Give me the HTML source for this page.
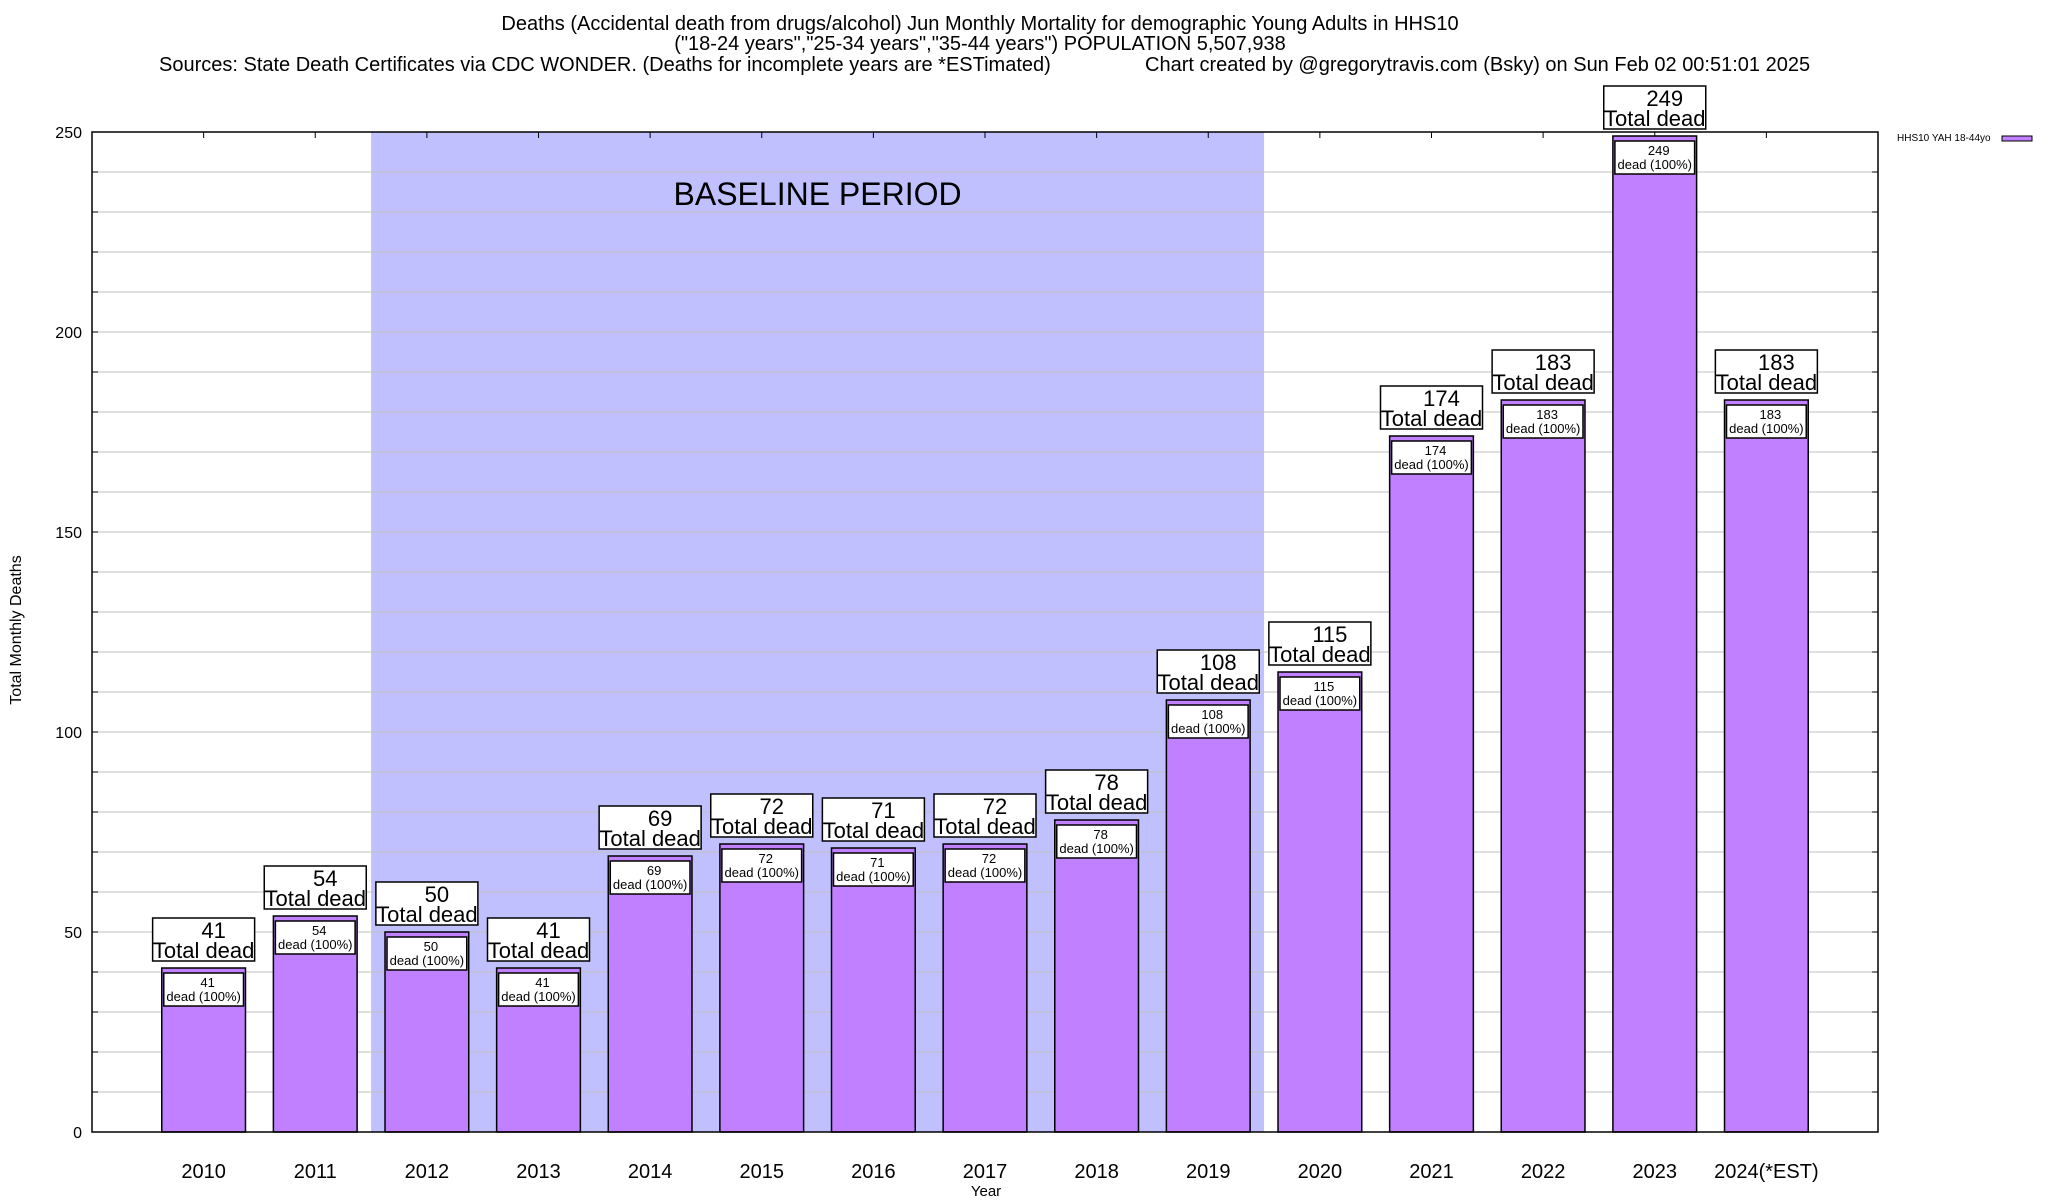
<!DOCTYPE html>
<html><head><meta charset="utf-8"><style>
html,body{margin:0;padding:0;background:#fff;}
svg{display:block;font-family:"Liberation Sans",Arial,sans-serif;}
</style></head><body>
<svg id="chart" width="2048" height="1200" viewBox="0 0 2048 1200" xmlns="http://www.w3.org/2000/svg">
<g font-size="20" fill="#000">
<text x="980" y="30" text-anchor="middle">Deaths (Accidental death from drugs/alcohol) Jun Monthly Mortality for demographic Young Adults in HHS10</text>
<text x="980" y="50" text-anchor="middle">("18-24 years","25-34 years","35-44 years") POPULATION 5,507,938</text>
<text x="159" y="71">Sources: State Death Certificates via CDC WONDER. (Deaths for incomplete years are *ESTimated)</text>
<text x="1145" y="71">Chart created by @gregorytravis.com (Bsky) on Sun Feb 02 00:51:01 2025</text>
</g>
<g id="plot"></g>
</svg>
<script>
const categories=["2010","2011","2012","2013","2014","2015","2016","2017","2018","2019","2020","2021","2022","2023","2024(*EST)"];
const deaths=[41,54,50,41,69,72,71,72,78,108,115,174,183,249,183];
const yTicks=[0,50,100,150,200,250];
const baselineStart=2, baselineEnd=9;

const L=92,R=1878,T=132,B=1132,YMAX=250;
const NS="http://www.w3.org/2000/svg";
const xs=i=>L+(i+1)*(R-L)/(categories.length+1);
const ys=v=>B-v*(B-T)/YMAX;
const unit=(R-L)/(categories.length+1);
const g=document.getElementById('plot');
function mk(tag,attrs,parent,txt){const e=document.createElementNS(NS,tag);for(const k in attrs)e.setAttribute(k,attrs[k]);if(txt!==undefined)e.textContent=txt;(parent||g).appendChild(e);return e;}

let e=mk('rect',{x:xs(baselineStart)-unit/2,y:T,width:(baselineEnd-baselineStart+1)*unit,height:B-T,fill:'#c0c0ff'});


for(let v=10;v<YMAX;v+=10){
 e=mk('line',{x1:L,x2:R,y1:ys(v),y2:ys(v),stroke:'#c0c0c0','stroke-width':1});
 
 
 mk('line',{x1:L,x2:L+6,y1:ys(v),y2:ys(v),stroke:'#000'});
 mk('line',{x1:R-6,x2:R,y1:ys(v),y2:ys(v),stroke:'#000'});
}
e=mk('text',{x:(xs(baselineStart)-unit/2+xs(baselineEnd)+unit/2)/2,y:205,'text-anchor':'middle','font-size':32},g,'BASELINE PERIOD');


yTicks.forEach(v=>{
 e=mk('text',{x:L-10,y:ys(v)+6,'text-anchor':'end','font-size':16},g,String(v));
 
 
});
const bw=unit*0.75;
categories.forEach((c,i)=>{
 const cx=xs(i),v=deaths[i],yt=ys(v);
 mk('line',{x1:cx,x2:cx,y1:T,y2:T+6,stroke:'#000'});
 e=mk('rect',{x:cx-bw/2,y:yt,width:bw,height:B-yt,fill:'#c080ff',stroke:'#000','stroke-width':1.5});
 
 
 e=mk('rect',{x:cx-bw/2+2,y:yt+5,width:bw-4,height:33,fill:'#fff',stroke:'#000','stroke-width':1.5});
 
 
 mk('text',{x:cx+4,y:yt+19,'text-anchor':'middle','font-size':13},g,String(v));
 mk('text',{x:cx,y:yt+33,'text-anchor':'middle','font-size':13},g,'dead (100%)');
 e=mk('rect',{x:cx-51,y:yt-50,width:102,height:43,fill:'#fff',stroke:'#000','stroke-width':1.5});
 
 
 mk('text',{x:cx+10,y:yt-30,'text-anchor':'middle','font-size':22},g,String(v));
 mk('text',{x:cx,y:yt-10,'text-anchor':'middle','font-size':22},g,'Total dead');
 e=mk('text',{x:cx,y:1178,'text-anchor':'middle','font-size':20},g,c);
 
 
});
e=mk('rect',{x:L,y:T,width:R-L,height:B-T,fill:'none',stroke:'#000','stroke-width':1.5});


e=mk('text',{x:0,y:0,'text-anchor':'middle','font-size':16,transform:'translate(21,630) rotate(-90)'},g,'Total Monthly Deaths');


e=mk('text',{x:986,y:1196,'text-anchor':'middle','font-size':15},g,'Year');


e=mk('text',{x:1897,y:141,'font-size':10},g,'HHS10 YAH 18-44yo');


e=mk('rect',{x:2002,y:136,width:30,height:5,fill:'#c080ff',stroke:'#000','stroke-width':1});


</script>
</body></html>
